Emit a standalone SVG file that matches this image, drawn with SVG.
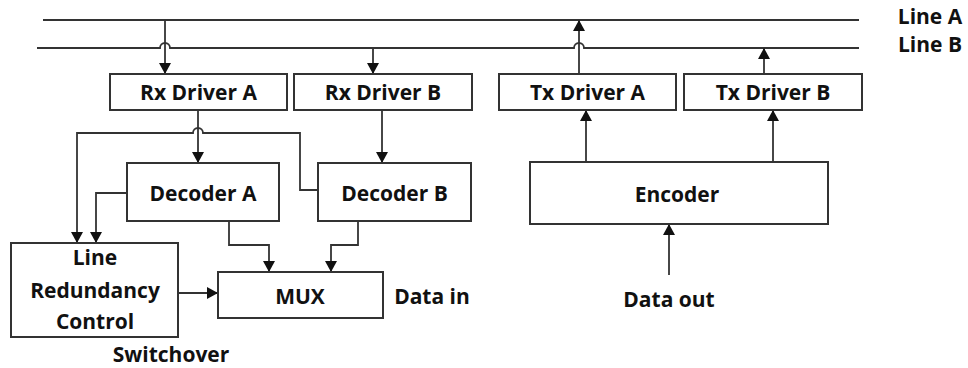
<svg xmlns="http://www.w3.org/2000/svg" width="968" height="368" viewBox="0 0 968 368">
<defs>
<marker id="ah" markerUnits="userSpaceOnUse" markerWidth="12" markerHeight="12" viewBox="0 0 12 12" refX="11" refY="6" orient="auto">
<path d="M0,0 L11,6 L0,12 z" fill="#111"/>
</marker>
<style>
.box{fill:#fff;stroke:#333;stroke-width:2}
.ln{fill:none;stroke:#333;stroke-width:1.8}
.ar{fill:none;stroke:#333;stroke-width:1.8;marker-end:url(#ah)}
text{font-family:"Open Sans","Liberation Sans",sans-serif;font-weight:bold;font-size:21px;fill:#111;text-anchor:middle;dominant-baseline:central}
</style>
</defs>
<rect width="968" height="368" fill="#fff"/>
<g id="bus">
<path class="ln" d="M43,20 H859"/>
<path class="ln" d="M37,48 H160 A5,5 0 0 1 170,48 H574 A5,5 0 0 1 584,48 H859"/>
<text x="930" y="16" font-size="20">Line A</text>
<text x="930" y="44" font-size="20">Line B</text>
</g>
<g id="connectors">
<path class="ar" d="M165,20 V74"/>
<path class="ar" d="M373,48 V74"/>
<path class="ar" d="M579,74 V20"/>
<path class="ar" d="M764,74 V48"/>
<path class="ar" d="M198,110 V163"/>
<path class="ar" d="M382,110 V163"/>
<path class="ar" d="M318,190 H300 V133 H203 A5,5 0 0 0 193,133 H77 V243"/>
<path class="ar" d="M127,193 H96 V243"/>
<path class="ar" d="M229,221 V245 H269 V272"/>
<path class="ar" d="M358,221 V245 H331 V272"/>
<path class="ar" d="M178,293 H218"/>
<path class="ar" d="M586,162 V110"/>
<path class="ar" d="M773,162 V110"/>
<path class="ar" d="M669,275 V224"/>
</g>
<g id="rx-driver-a"><rect class="box" x="110" y="74" width="177" height="36"/><text x="198.5" y="92">Rx Driver A</text></g>
<g id="rx-driver-b"><rect class="box" x="294" y="74" width="178" height="36"/><text x="383" y="92">Rx Driver B</text></g>
<g id="tx-driver-a"><rect class="box" x="499" y="74" width="177" height="36"/><text x="587.5" y="92">Tx Driver A</text></g>
<g id="tx-driver-b"><rect class="box" x="684" y="74" width="178" height="36"/><text x="773" y="92">Tx Driver B</text></g>
<g id="decoder-a"><rect class="box" x="127" y="163" width="152" height="58"/><text x="203" y="193">Decoder A</text></g>
<g id="decoder-b"><rect class="box" x="318" y="163" width="153" height="58"/><text x="394.5" y="193">Decoder B</text></g>
<g id="encoder"><rect class="box" x="530" y="162" width="298" height="62"/><text x="677" y="194">Encoder</text></g>
<g id="mux"><rect class="box" x="218" y="272" width="165" height="46"/><text x="300" y="296">MUX</text></g>
<g id="lrc"><rect class="box" x="11" y="243" width="167" height="94"/><text x="95" y="257">Line</text><text x="95" y="290">Redundancy</text><text x="95" y="321">Control</text></g>
<g id="labels">
<text x="432" y="296">Data in</text>
<text x="669" y="299">Data out</text>
<text x="171" y="354">Switchover</text>
</g>
</svg>
